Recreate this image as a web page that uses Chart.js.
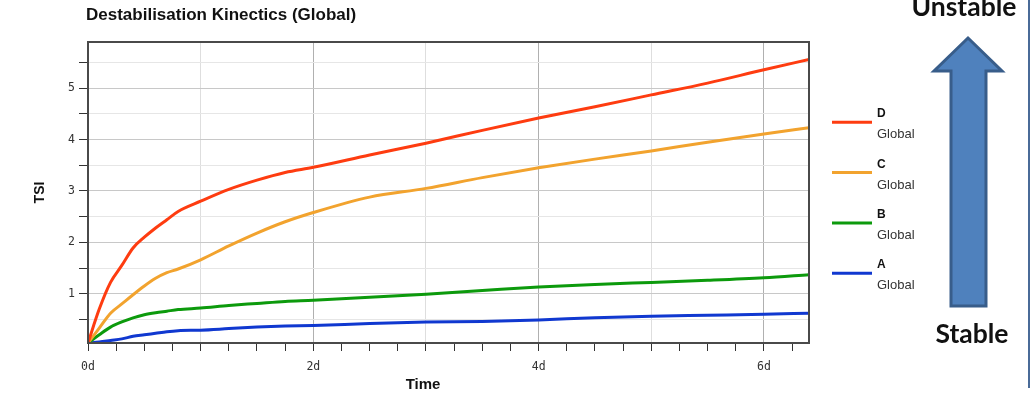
<!DOCTYPE html>
<html>
<head>
<meta charset="utf-8">
<script src="https://cdn.jsdelivr.net/npm/chart.js@4/dist/chart.umd.min.js"></script>
<style>
html,body{margin:0;padding:0;background:#fff;}
#wrap{position:relative;width:1035px;height:394px;overflow:hidden;background:#fff;}
#c{position:absolute;left:0;top:0;}
#ov{position:absolute;left:0;top:0;}
</style>
</head>
<body>
<div id="wrap">
<canvas id="c" width="811" height="394"></canvas>
<svg id="ov" width="1035" height="394" xmlns="http://www.w3.org/2000/svg"></svg>
</div>
<script>
// ---- data (time in days, TSI values) ----
const times   = [0, 0.1, 0.2, 0.3, 0.4, 0.5, 0.6, 0.7, 0.8, 1.0, 1.25, 1.5, 1.75, 2.0, 2.5, 3.0, 3.5, 4.0, 4.5, 5.0, 5.5, 6.0, 6.4];
const seriesD = [0.04, 0.70, 1.22, 1.55, 1.89, 2.10, 2.28, 2.44, 2.60, 2.80, 3.03, 3.21, 3.36, 3.46, 3.70, 3.93, 4.18, 4.42, 4.64, 4.87, 5.10, 5.36, 5.56];
const seriesC = [0.04, 0.33, 0.62, 0.80, 0.98, 1.15, 1.30, 1.41, 1.48, 1.66, 1.93, 2.18, 2.40, 2.58, 2.88, 3.05, 3.26, 3.45, 3.62, 3.78, 3.95, 4.11, 4.23];
const seriesB = [0.04, 0.20, 0.35, 0.45, 0.53, 0.59, 0.63, 0.66, 0.69, 0.72, 0.77, 0.81, 0.85, 0.87, 0.93, 0.99, 1.06, 1.13, 1.18, 1.22, 1.26, 1.31, 1.37];
const seriesA = [0.04, 0.06, 0.09, 0.12, 0.17, 0.20, 0.23, 0.26, 0.28, 0.29, 0.32, 0.35, 0.37, 0.38, 0.42, 0.45, 0.46, 0.49, 0.53, 0.56, 0.58, 0.60, 0.62];
const seriesNames = ['D', 'C', 'B', 'A'];
const seriesSub = 'Global';
const yTickValues = [0.5, 1, 1.5, 2, 2.5, 3, 3.5, 4, 4.5, 5, 5.5];
const xTickValues = [0, 0.25, 0.5, 0.75, 1, 1.25, 1.5, 1.75, 2, 2.25, 2.5, 2.75, 3, 3.25, 3.5, 3.75, 4, 4.25, 4.5, 4.75, 5, 5.25, 5.5, 5.75, 6, 6.25];
const xLabelDays = [0, 2, 4, 6];
const yLabelValues = [1, 2, 3, 4, 5];
const titleText = 'Destabilisation Kinectics (Global)';
const xTitle = 'Time';
const yTitle = 'TSI';

const colors = {D:'#fe3c10', C:'#f2a32e', B:'#0c9a0c', A:'#1038d0'};
const seriesData = {D:seriesD, C:seriesC, B:seriesB, A:seriesA};

const datasets = seriesNames.map(n => ({
  label: n,
  data: times.map((t,i) => ({x:t, y:seriesData[n][i]})),
  borderColor: colors[n],
  backgroundColor: colors[n],
  borderWidth: 3,
  pointRadius: 0,
  cubicInterpolationMode: 'monotone',
  fill: false
}));

const frame = {
  id: 'frame',
  afterDraw(chart) {
    const {ctx, chartArea:a} = chart;
    ctx.save();
    ctx.strokeStyle = '#4a4a4a';
    ctx.lineWidth = 2;
    ctx.strokeRect(a.left, a.top, a.right - a.left, a.bottom - a.top);
    ctx.restore();
  }
};

new Chart(document.getElementById('c'), {
  type: 'line',
  data: { datasets },
  options: {
    responsive: false,
    animation: false,
    layout: { padding: { top: 42, right: 2, left: 0, bottom: 0 } },
    plugins: { legend: { display: false }, title: { display: false }, tooltip: { enabled: false } },
    scales: {
      x: {
        type: 'linear', min: 0, max: 6.4,
        afterBuildTicks(s) { s.ticks = xTickValues.map(v => ({value:v})); },
        afterFit(s) { s.height = 51; },
        ticks: {
          autoSkip: false, maxRotation: 0, padding: 9,
          color: '#333', font: { family: 'DejaVu Sans Mono', size: 11.5 },
          callback: v => xLabelDays.includes(v) ? v + 'd' : ''
        },
        grid: {
          color: c => {
            const v = c.tick ? c.tick.value : 0;
            if (!Number.isInteger(v)) return 'rgba(0,0,0,0)';
            return v % 2 === 0 ? '#b0b0b0' : '#dedede';
          },
          tickColor: '#333', tickLength: 8, lineWidth: 1, drawTicks: true
        },
        border: { display: true, color: '#444', width: 2 },
        title: { display: false }
      },
      y: {
        min: 0.04, max: 5.9,
        afterBuildTicks(s) { s.ticks = yTickValues.map(v => ({value:v})); },
        afterFit(s) { s.width = 88; },
        ticks: {
          autoSkip: false, padding: 4,
          color: '#333', font: { family: 'DejaVu Sans Mono', size: 11.5 },
          callback: v => yLabelValues.includes(v) ? String(v) : ''
        },
        grid: {
          color: c => {
            const v = c.tick ? c.tick.value : 0;
            return Number.isInteger(v) ? '#c8c8c8' : '#e6e6e6';
          },
          tickColor: '#333', tickLength: 9, lineWidth: 1
        },
        border: { display: true, color: '#444', width: 2 },
        title: {
          display: true, text: yTitle, color: '#111',
          font: { family: 'Liberation Sans', size: 14, weight: 'bold' },
          padding: { top: 32, bottom: 0 }
        }
      }
    }
  },
  plugins: [frame]
});

// ---- overlay: title, x title, legend, stability arrow ----
const NS = 'http://www.w3.org/2000/svg';
const ov = document.getElementById('ov');
function el(tag, attrs, text) {
  const e = document.createElementNS(NS, tag);
  for (const k in attrs) e.setAttribute(k, attrs[k]);
  if (text !== undefined) e.textContent = text;
  ov.appendChild(e);
  return e;
}
el('text', {x:86, y:20, 'font-family':'Liberation Sans', 'font-size':17, 'font-weight':'bold', fill:'#111'}, titleText);
el('text', {x:423, y:389, 'text-anchor':'middle', 'font-family':'Liberation Sans', 'font-size':15, 'font-weight':'bold', fill:'#111'}, xTitle);

datasets.forEach((d, i) => {
  const yc = 122.3 + i * 50.3;
  el('line', {x1:832, x2:872, y1:yc, y2:yc, stroke:d.borderColor, 'stroke-width':3});
  el('text', {x:877, y:yc - 5, 'font-family':'Liberation Sans', 'font-size':12, 'font-weight':'bold', fill:'#111'}, d.label);
  el('text', {x:877, y:yc + 16, 'font-family':'Liberation Sans', 'font-size':13, fill:'#333'}, seriesSub);
});

el('polygon', {points:'968,38 1002,71 986,71 986,306 951,306 951,71 934,71', fill:'#4f81bd', stroke:'#385d8a', 'stroke-width':3, 'stroke-linejoin':'miter'});
el('text', {x:964, y:16, 'text-anchor':'middle', 'font-family':'Lato', 'font-size':26.5, 'font-weight':'bold', fill:'#111'}, 'Unstable');
el('text', {x:972, y:343, 'text-anchor':'middle', 'font-family':'Lato', 'font-size':26.5, 'font-weight':'bold', fill:'#111'}, 'Stable');
el('line', {x1:1029, x2:1029, y1:0, y2:388, stroke:'#4a6b98', 'stroke-width':2});
</script>
</body>
</html>
